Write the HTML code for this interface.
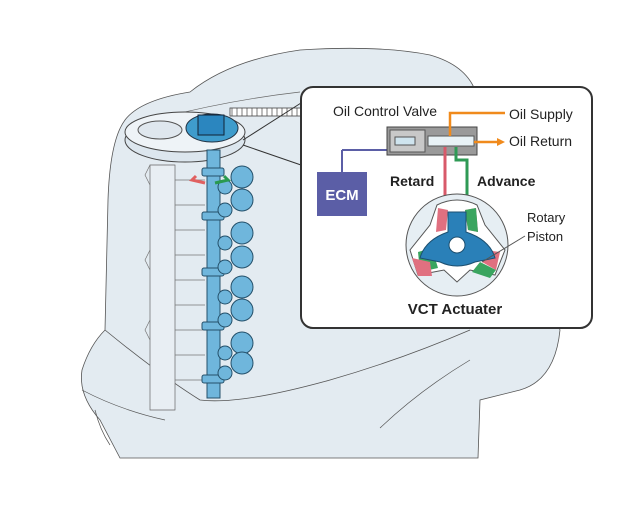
<!DOCTYPE html>
<html><head><style>html,body{margin:0;padding:0;background:#fff}svg{display:block}</style></head><body>
<svg width="640" height="512" viewBox="0 0 640 512" xmlns="http://www.w3.org/2000/svg" font-family="'Liberation Sans', sans-serif">
<!-- engine cowl -->
<path d="M120 458 L100 420 Q78 395 82 370 Q90 345 105 330 L108 200 Q110 140 125 120 Q140 100 190 92 Q230 60 300 50 Q380 45 430 55 Q465 65 475 90 L560 330 Q555 380 520 390 L480 400 L478 458 Z" fill="#e3ebf1" stroke="#555" stroke-width="0.8"/>
<path d="M105 330 Q160 375 200 400 Q240 405 330 380 Q400 360 470 330" fill="none" stroke="#555" stroke-width="0.8"/>
<path d="M82 390 Q120 410 165 420" fill="none" stroke="#555" stroke-width="0.7"/>
<path d="M330 478 M330 478" />
<path d="M380 428 Q420 390 470 360" fill="none" stroke="#555" stroke-width="0.7"/>
<path d="M110 445 Q100 430 95 410" fill="none" stroke="#555" stroke-width="0.7"/>
<path d="M160 118 Q230 100 300 92" fill="none" stroke="#666" stroke-width="0.7"/>
<!-- engine block -->
<path d="M150 165 L150 410 L175 410 L175 165 Z" fill="#e8eef3" stroke="#666" stroke-width="0.7"/>
<g fill="none" stroke="#777" stroke-width="0.7">
<path d="M175 180 H205 M175 205 H205 M175 230 H205 M175 255 H205 M175 280 H205 M175 305 H205 M175 330 H205 M175 355 H205 M175 380 H205"/>
<path d="M150 165 L145 175 L150 185 M150 250 L145 260 L150 270 M150 320 L145 330 L150 340"/>
</g>
<!-- pulley & belt -->
<rect x="230" y="108" width="75" height="8" fill="#fff" stroke="#444" stroke-width="0.8"/>
<path d="M232 108 V116 M237 108 V116 M242 108 V116 M247 108 V116 M252 108 V116 M257 108 V116 M262 108 V116 M267 108 V116 M272 108 V116 M277 108 V116 M282 108 V116 M287 108 V116 M292 108 V116 M297 108 V116" stroke="#444" stroke-width="0.7"/>
<ellipse cx="185" cy="140" rx="60" ry="22" fill="#dce6ee" stroke="#444"/>
<ellipse cx="185" cy="132" rx="60" ry="20" fill="#eef3f7" stroke="#444"/>
<ellipse cx="160" cy="130" rx="22" ry="9" fill="#dfe7ee" stroke="#555"/>
<ellipse cx="212" cy="128" rx="26" ry="14" fill="#3f9ccc" stroke="#234"/>
<rect x="198" y="115" width="26" height="20" fill="#2b86bf" stroke="#123"/>
<!-- camshaft -->
<rect x="207" y="150" width="13" height="248" fill="#6fb6dc" stroke="#24506a"/>
<g fill="#6fb6dc" stroke="#24506a">
<rect x="202" y="168" width="22" height="8" rx="2"/><rect x="202" y="212" width="22" height="8" rx="2"/>
<rect x="202" y="268" width="22" height="8" rx="2"/><rect x="202" y="322" width="22" height="8" rx="2"/>
<rect x="202" y="375" width="22" height="8" rx="2"/>
<circle cx="242" cy="177" r="11"/><circle cx="242" cy="200" r="11"/>
<circle cx="242" cy="233" r="11"/><circle cx="242" cy="257" r="11"/>
<circle cx="242" cy="287" r="11"/><circle cx="242" cy="310" r="11"/>
<circle cx="242" cy="343" r="11"/><circle cx="242" cy="363" r="11"/>
<circle cx="225" cy="187" r="7"/><circle cx="225" cy="210" r="7"/>
<circle cx="225" cy="243" r="7"/><circle cx="225" cy="267" r="7"/>
<circle cx="225" cy="297" r="7"/><circle cx="225" cy="320" r="7"/>
<circle cx="225" cy="353" r="7"/><circle cx="225" cy="373" r="7"/>
</g>
<path d="M205 183 L192 180 L196 176" fill="none" stroke="#e06060" stroke-width="3"/>
<path d="M215 183 L228 180 L224 176" fill="none" stroke="#2a9a50" stroke-width="3"/>
<!-- callout lines -->
<path d="M243 140 L301 103 M243 145 L301 165" stroke="#333" stroke-width="1" fill="none"/>
<!-- inset -->
<rect x="301" y="87" width="291" height="241" rx="12" fill="#fff" stroke="#333" stroke-width="2"/>
<text x="333" y="116" font-size="14" fill="#222">Oil Control Valve</text>
<text x="509" y="119" font-size="14" fill="#222">Oil Supply</text>
<text x="509" y="146" font-size="14" fill="#222">Oil Return</text>
<path d="M342 150 H387 M342 150 V172" stroke="#5b5ea6" stroke-width="2" fill="none"/>
<rect x="317" y="172" width="50" height="44" fill="#5b5ea6"/>
<text x="342" y="200" font-size="15" font-weight="bold" fill="#fff" text-anchor="middle">ECM</text>
<rect x="387" y="127" width="90" height="28" fill="#9a9a9a" stroke="#444"/>
<rect x="390" y="130" width="35" height="22" fill="#c8c8c8" stroke="#555"/>
<rect x="395" y="137" width="20" height="8" fill="#cfe4ee" stroke="#555"/>
<rect x="428" y="136" width="46" height="10" fill="#e8f2f6" stroke="#555"/>
<path d="M450 136 V113 H505" stroke="#f08a1c" stroke-width="2.5" fill="none"/>
<path d="M474 142 H498" stroke="#f08a1c" stroke-width="2.5"/>
<path d="M497 138 L505 142 L497 146 Z" fill="#f08a1c"/>
<path d="M445 147 V210" stroke="#d85a6a" stroke-width="3" fill="none"/>
<path d="M456 147 V160 H467 V210" stroke="#2f9a55" stroke-width="3" fill="none"/>
<text x="390" y="186" font-size="14" font-weight="bold" fill="#222">Retard</text>
<text x="477" y="186" font-size="14" font-weight="bold" fill="#222">Advance</text>
<circle cx="457" cy="245" r="51" fill="#e6eef3" stroke="#555"/>
<path d="M437 205 Q457 195 477 205 L485 225 L505 250 L495 275 L470 270 L457 282 L444 270 L418 275 L410 250 L430 225 Z" fill="#fff" stroke="#555"/>
<path d="M438 208 L448 210 L446 230 L436 232 Z M465 210 L476 208 L478 232 L468 230 Z" fill="#e07080"/>
<path d="M465 210 L476 208 L478 232 L468 230 Z" fill="#3aa55f"/>
<path d="M418 252 L432 248 L438 268 L420 272 Z" fill="#3aa55f"/>
<path d="M412 258 L430 262 L432 276 L418 276 Z" fill="#e07080"/>
<path d="M485 250 L500 252 L496 270 L482 262 Z" fill="#e07080"/>
<path d="M480 262 L496 270 L490 278 L472 272 Z" fill="#3aa55f"/>
<path d="M448 212 L466 212 L466 232 Q490 240 495 258 L475 262 Q457 270 440 262 L420 258 Q425 240 448 232 Z" fill="#2a80b8" stroke="#1c4f70"/>
<circle cx="457" cy="245" r="8" fill="#fff" stroke="#1c4f70"/>
<path d="M525 236 L482 262" stroke="#555" stroke-width="1"/>
<text x="527" y="222" font-size="13" fill="#222">Rotary</text>
<text x="527" y="241" font-size="13" fill="#222">Piston</text>
<text x="455" y="314" font-size="15" font-weight="bold" fill="#222" text-anchor="middle">VCT Actuater</text>
</svg>
</body></html>
